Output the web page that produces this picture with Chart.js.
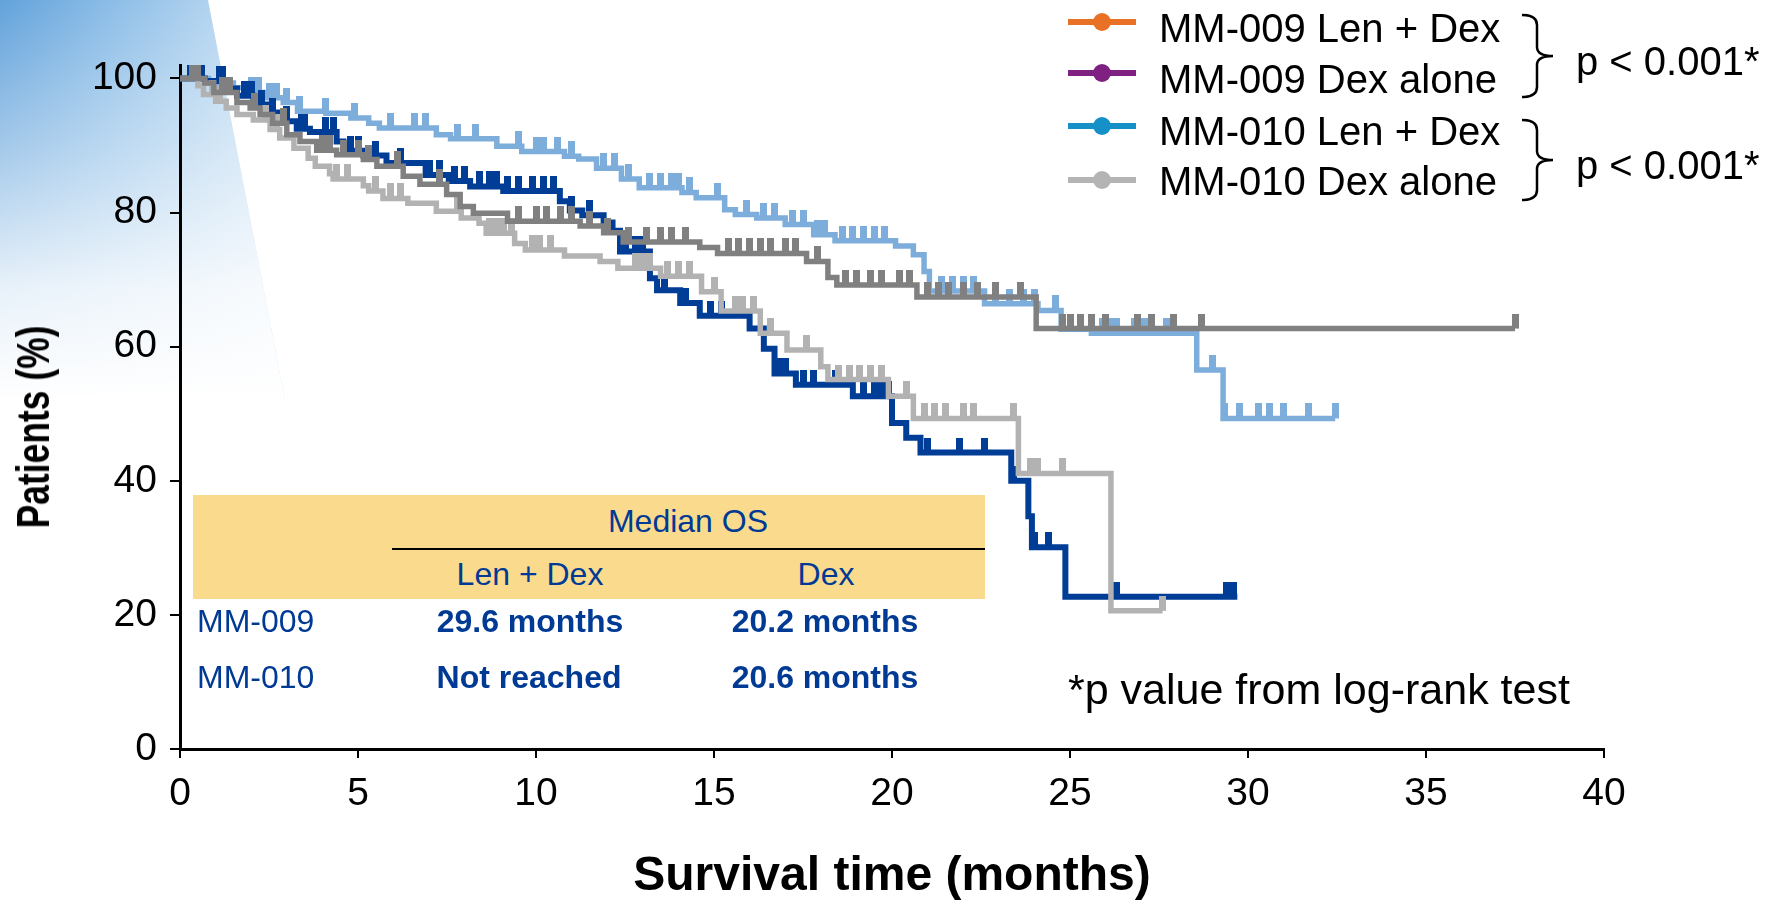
<!DOCTYPE html>
<html>
<head>
<meta charset="utf-8">
<script src="https://cdn.jsdelivr.net/npm/chart.js@4/dist/chart.umd.min.js"></script>
<style>
html,body{margin:0;padding:0;background:#fff;}
#wrap{position:relative;width:1765px;height:906px;overflow:hidden;font-family:"Liberation Sans",Arial,sans-serif;}
#bg{position:absolute;left:0;top:0;width:300px;height:400px;
  clip-path:polygon(0 0,208px 0,285px 400px,0 400px);
  background:
    linear-gradient(to bottom, rgba(255,255,255,0) 0%, rgba(255,255,255,0.4) 35%, rgba(255,255,255,0.85) 72%, #fff 100%),
    linear-gradient(to right, #62A2DB 0%, #8FBFE8 40%, #BCD9F1 80%, #D2E5F6 100%);}
#chart{position:absolute;left:0;top:0;}
#ov{position:absolute;left:0;top:0;}
.t{position:absolute;white-space:nowrap;line-height:1;}
.c{transform:translate(-50%,-50%);}
.l{transform:translateY(-50%);}
.tb{color:#003A94;font-size:32px;}
.b{font-weight:bold;}
#ytitle{left:33px;top:427px;font-size:46px;font-weight:bold;color:#000;
  transform:translate(-50%,-50%) rotate(-90deg) scaleX(0.77);}
</style>
</head>
<body>
<div id="wrap">
  <div id="bg"></div>
  <canvas id="chart" width="1765" height="906"></canvas>

  <div class="t" id="ytitle">Patients (%)</div>

  <div class="t" style="left:193px;top:495px;width:792px;height:104px;background:#FADB8E;"></div>
  <div class="t" style="left:392px;top:548px;width:593px;height:2px;background:#000;"></div>
  <div class="t c tb" style="left:688px;top:521px;">Median OS</div>
  <div class="t c tb" style="left:530px;top:574px;">Len + Dex</div>
  <div class="t c tb" style="left:826px;top:574px;">Dex</div>
  <div class="t l tb" style="left:197px;top:621px;">MM-009</div>
  <div class="t l tb" style="left:197px;top:677px;">MM-010</div>
  <div class="t c tb b" style="left:530px;top:621px;">29.6 months</div>
  <div class="t c tb b" style="left:825px;top:621px;">20.2 months</div>
  <div class="t c tb b" style="left:529px;top:677px;">Not reached</div>
  <div class="t c tb b" style="left:825px;top:677px;">20.6 months</div>

  <div class="t l" style="left:1068px;top:689px;font-size:43px;color:#000;">*p value from log-rank test</div>

  <div class="t l" style="left:1159px;top:28px;font-size:40px;color:#000;">MM-009 Len + Dex</div>
  <div class="t l" style="left:1159px;top:79px;font-size:40px;color:#000;">MM-009 Dex alone</div>
  <div class="t l" style="left:1159px;top:131px;font-size:40px;color:#000;">MM-010 Len + Dex</div>
  <div class="t l" style="left:1159px;top:181px;font-size:40px;color:#000;">MM-010 Dex alone</div>
  <div class="t l" style="left:1576px;top:61px;font-size:40px;color:#000;">p &lt; 0.001*</div>
  <div class="t l" style="left:1576px;top:165px;font-size:40px;color:#000;">p &lt; 0.001*</div>

  <svg id="ov" width="1765" height="906">
    <g stroke-width="6">
      <line x1="1068" y1="22" x2="1136" y2="22" stroke="#E97125"/>
      <circle cx="1102" cy="22" r="9" fill="#E97125" stroke="none"/>
      <line x1="1068" y1="73" x2="1136" y2="73" stroke="#7E2181"/>
      <circle cx="1102" cy="73" r="9" fill="#7E2181" stroke="none"/>
      <line x1="1068" y1="126" x2="1136" y2="126" stroke="#1591C8"/>
      <circle cx="1102" cy="126" r="9" fill="#1591C8" stroke="none"/>
      <line x1="1068" y1="180" x2="1136" y2="180" stroke="#B4B4B4"/>
      <circle cx="1102" cy="180" r="9" fill="#B4B4B4" stroke="none"/>
    </g>
    <path d="M1522,15 Q1537,15 1537,25 L1537,47 Q1537,56 1553,56 Q1537,56 1537,65 L1537,87 Q1537,97 1522,97" fill="none" stroke="#000" stroke-width="2.5"/>
    <path d="M1522,120 Q1537,120 1537,130 L1537,151 Q1537,160 1553,160 Q1537,160 1537,169 L1537,190 Q1537,200 1522,200" fill="none" stroke="#000" stroke-width="2.5"/>
  </svg>
</div>
<script>
// ---- Data (months, % surviving) ----
const xTicks = [0, 5, 10, 15, 20, 25, 30, 35, 40];
const yTicks = [0, 20, 40, 60, 80, 100];

// MM-009 Len + Dex (light blue curve)
const len009Times = [0, 0.8, 1.5, 2.0, 2.4, 2.9, 3.3, 4.1, 4.8, 5.3, 5.6, 7.2, 7.6, 8.9, 9.6, 10.8, 11.2, 11.7, 12.4, 12.9, 14.1, 14.5, 15.3, 15.6, 16.2, 17.0, 17.8, 18.4, 20.1, 20.6, 20.9, 21.05, 22.6, 24.1, 24.75, 25.6, 28.56, 29.3, 32.45];
const len009Surv  = [100, 99.3, 98.6, 97.9, 97.1, 96.4, 95.1, 94.8, 94.1, 93.3, 92.6, 91.6, 91.0, 89.9, 89.1, 88.4, 88.0, 86.6, 85.0, 83.7, 83.0, 82.2, 80.4, 79.7, 79.2, 78.2, 76.7, 75.8, 75.0, 73.7, 71.2, 68.3, 66.4, 65.4, 62.6, 62.0, 56.5, 49.3, 49.3];
const len009Censor = [2.0, 2.2, 2.5, 2.7, 3.0, 3.35, 4.1, 4.9, 5.9, 6.6, 6.9, 7.8, 8.3, 9.5, 10.0, 10.2, 10.6, 11.0, 11.9, 12.2, 12.6, 13.2, 13.5, 13.8, 14.0, 14.3, 15.1, 15.9, 16.4, 16.7, 17.2, 17.5, 17.9, 18.1, 18.6, 18.9, 19.2, 19.5, 19.8, 21.4, 21.7, 22.0, 22.3, 22.9, 23.3, 23.7, 24.0, 24.6, 25.0, 25.3, 25.9, 26.1, 26.3, 26.8, 27.1, 27.7, 29.0, 29.35, 29.75, 30.3, 30.6, 31.0, 31.7, 32.45];

// MM-009 Dex alone (dark navy curve)
const dex009Times = [0, 0.7, 1.36, 1.6, 2.06, 2.43, 2.81, 3.28, 3.65, 4.4, 4.59, 5.15, 5.8, 6.9, 7.55, 8.15, 9.08, 10.67, 10.95, 11.3, 11.9, 12.15, 12.36, 13.2, 13.4, 14.05, 14.6, 16.0, 16.4, 16.7, 17.3, 18.9, 20.0, 20.4, 20.8, 23.35, 23.83, 23.93, 24.87, 29.7];
const dex009Surv  = [100, 99.6, 98.5, 97.4, 96.1, 94.9, 93.6, 92.5, 92.0, 90.6, 89.2, 88.5, 87.4, 85.6, 84.7, 83.9, 83.2, 81.7, 80.3, 79.6, 78.5, 77.3, 74.2, 70.2, 68.4, 66.5, 64.6, 62.7, 59.7, 56.0, 54.3, 52.6, 48.6, 46.4, 44.2, 40.0, 34.7, 30.1, 22.7, 22.7];
const dex009Censor = [0.3, 0.6, 1.1, 1.2, 1.8, 2.0, 2.3, 2.6, 3.0, 3.4, 3.5, 4.1, 4.3, 4.8, 5.0, 5.5, 6.2, 7.0, 7.3, 7.7, 8.0, 8.4, 8.7, 8.9, 9.2, 9.5, 9.9, 10.2, 10.5, 11.0, 11.5, 12.5, 12.8, 13.0, 13.6, 14.2, 14.9, 15.2, 15.8, 16.8, 17.0, 17.5, 17.8, 18.4, 19.2, 19.5, 19.7, 19.9, 21.0, 21.9, 22.6, 23.4, 24.0, 24.4, 26.3, 29.4, 29.6];

// MM-010 Len + Dex (dark grey curve)
const len010Times = [0, 0.7, 0.95, 1.6, 1.97, 2.25, 2.6, 3.0, 3.37, 3.84, 4.4, 5.15, 5.53, 6.27, 6.74, 7.49, 7.87, 8.24, 9.2, 11.24, 11.9, 12.45, 14.6, 15.1, 17.6, 18.2, 18.45, 20.7, 24.05, 37.5];
const len010Surv  = [100, 99.3, 97.9, 96.4, 95.6, 94.6, 93.3, 91.6, 90.6, 89.3, 88.6, 87.9, 86.9, 85.4, 84.2, 82.7, 80.9, 79.9, 78.7, 78.0, 77.0, 75.6, 74.8, 73.9, 72.7, 70.3, 69.2, 67.4, 62.7, 62.7];
const len010Censor = [0.35, 0.5, 1.2, 1.4, 2.1, 2.9, 4.0, 4.2, 4.6, 5.0, 5.3, 6.1, 7.3, 9.5, 10.0, 10.3, 10.7, 11.0, 11.5, 12.0, 12.6, 13.1, 13.5, 13.8, 14.2, 15.4, 15.7, 16.0, 16.3, 16.6, 17.0, 17.3, 17.9, 18.7, 19.0, 19.4, 19.7, 20.2, 20.5, 21.0, 21.3, 21.6, 22.0, 22.4, 22.9, 23.6, 24.8, 25.0, 25.3, 25.6, 26.0, 26.9, 27.3, 27.9, 28.7, 37.5];

// MM-010 Dex alone (light grey curve)
const dex010Times = [0, 0.5, 0.66, 1.0, 1.3, 1.6, 2.06, 2.53, 2.8, 3.2, 3.6, 3.8, 4.2, 4.3, 5.15, 5.3, 5.7, 6.4, 7.2, 7.9, 8.4, 8.6, 9.4, 9.7, 10.8, 11.8, 12.3, 13.5, 14.65, 15.2, 16.3, 17.05, 18.0, 18.2, 19.9, 20.6, 23.55, 26.15, 27.6];
const dex010Surv  = [100, 98.9, 97.6, 96.6, 95.6, 94.6, 93.8, 92.4, 91.1, 89.6, 88.1, 86.9, 85.8, 85.0, 84.0, 83.2, 82.1, 81.4, 80.2, 79.2, 78.4, 76.9, 75.4, 74.4, 73.5, 72.7, 71.7, 70.5, 68.2, 65.3, 62.0, 59.5, 57.0, 55.1, 52.6, 49.3, 41.1, 20.6, 20.6];
const dex010Censor = [0.9, 1.1, 2.4, 2.7, 4.4, 4.7, 5.5, 5.9, 6.2, 7.8, 8.7, 8.9, 9.1, 9.3, 9.9, 10.1, 10.4, 12.8, 13.0, 13.2, 13.7, 14.0, 14.3, 15.0, 15.6, 15.8, 16.1, 16.6, 17.6, 18.5, 18.8, 19.1, 19.4, 19.7, 20.4, 20.9, 21.2, 21.5, 22.0, 22.3, 23.4, 23.9, 24.1, 24.8, 27.6];

// ---- helpers ----
function stepAt(times, surv, t) {
  let v = surv[0];
  for (let i = 0; i < times.length; i++) { if (times[i] <= t + 1e-9) v = surv[i]; else break; }
  return v;
}
function tickGlyph(color) {
  const c = document.createElement('canvas');
  c.width = 7; c.height = 30;
  const g = c.getContext('2d');
  g.fillStyle = color; g.fillRect(0, 0, 7, 15);
  return c;
}
function series(label, times, surv, censor, color, width, order) {
  return [
    { label: label, data: times.map((t, i) => ({ x: t, y: surv[i] })), stepped: true,
      borderColor: color, borderWidth: width, pointRadius: 0, fill: false,
      borderJoinStyle: 'miter', borderCapStyle: 'butt', order: order },
    { label: label + ' censored', data: censor.map(t => ({ x: t, y: stepAt(times, surv, t) })),
      showLine: false, pointStyle: tickGlyph(color), pointRadius: 5, order: order }
  ];
}

Chart.defaults.font.family = "'Liberation Sans', Arial, sans-serif";
Chart.defaults.color = '#000';

const datasets = [].concat(
  series('MM-010 Len + Dex', len010Times, len010Surv, len010Censor, '#808080', 5.5, 1),
  series('MM-010 Dex alone', dex010Times, dex010Surv, dex010Censor, '#B2B2B2', 5.5, 2),
  series('MM-009 Dex alone', dex009Times, dex009Surv, dex009Censor, '#003D96', 6, 3),
  series('MM-009 Len + Dex', len009Times, len009Surv, len009Censor, '#7DADDB', 5.5, 4)
);

new Chart(document.getElementById('chart'), {
  type: 'line',
  data: { datasets: datasets },
  options: {
    responsive: false, animation: false, devicePixelRatio: 1,
    layout: { padding: { left: 0, right: 161, top: 65, bottom: 0 } },
    plugins: { legend: { display: false }, tooltip: { enabled: false } },
    scales: {
      x: {
        type: 'linear', min: 0, max: 40,
        afterBuildTicks: s => { s.ticks = xTicks.map(v => ({ value: v })); },
        afterFit: s => { s.height = 157; s.paddingLeft = 0; s.paddingRight = 0; },
        ticks: { font: { size: 39 }, color: '#000', padding: 13, maxRotation: 0 },
        grid: { drawOnChartArea: false, drawTicks: true, tickLength: 9, color: '#000', lineWidth: 2 },
        border: { color: '#000', width: 3 },
        title: { display: true, text: 'Survival time (months)', color: '#000',
                 font: { size: 48, weight: 'bold' }, padding: { top: 0, bottom: 0 } }
      },
      y: {
        type: 'linear', min: 0, max: 102,
        afterBuildTicks: s => { s.ticks = yTicks.map(v => ({ value: v })); },
        afterFit: s => { s.width = 180; s.paddingTop = 0; s.paddingBottom = 0; },
        ticks: { font: { size: 39 }, color: '#000', padding: 13 },
        grid: { drawOnChartArea: false, drawTicks: true, tickLength: 10, color: '#000', lineWidth: 2 },
        border: { color: '#000', width: 3 },
        title: { display: false }
      }
    }
  }
});
</script>
</body>
</html>
